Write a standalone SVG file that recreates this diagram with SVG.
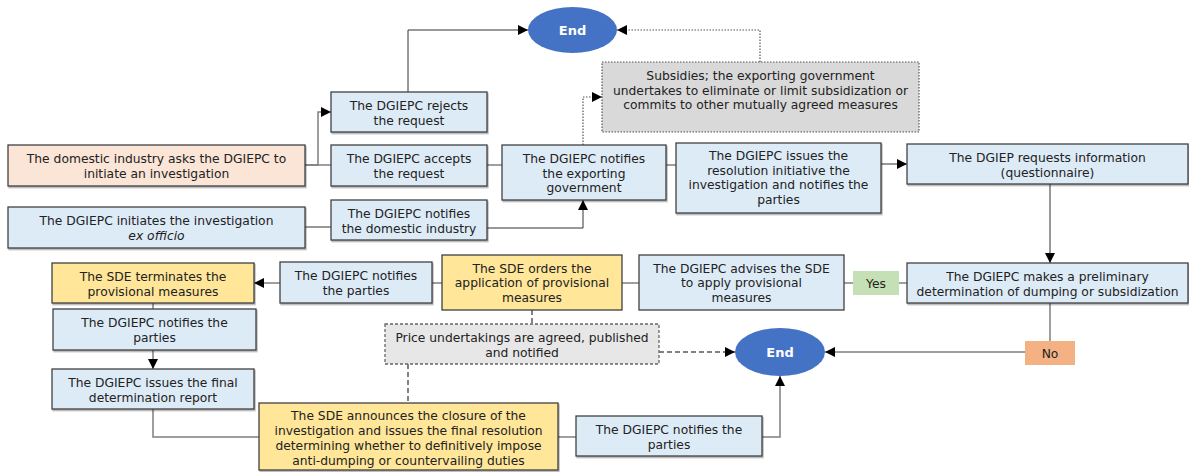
<svg xmlns="http://www.w3.org/2000/svg" width="1189" height="472" viewBox="0 0 1189 472">
<style>
text{font-family:"DejaVu Sans","Liberation Sans",sans-serif;font-size:12.3px;fill:#222;text-anchor:middle}
.box{stroke:#404040;stroke-width:1.3}
.blue{fill:#DDEBF7}
.orange{fill:#FBE5D6}
.yellow{fill:#FFE699}
.gray{fill:#D9D9D9;stroke:#555;stroke-width:1.2;stroke-dasharray:1.5 1.5}
.price{fill:#E7E7E7;stroke:#666;stroke-width:1.3;stroke-dasharray:3 2}
.end{fill:#4472C4}
.endt{fill:#fff;font-weight:bold;font-size:13px}
.c{fill:none;stroke:#7f7f7f;stroke-width:1.5}
.thin{fill:none;stroke:#333;stroke-width:1}
.dot{fill:none;stroke:#555;stroke-width:1.2;stroke-dasharray:1.5 1.5}
.dash{fill:none;stroke:#595959;stroke-width:1.5;stroke-dasharray:5 3}
</style>
<defs>
<marker id="arr" markerUnits="userSpaceOnUse" markerWidth="10" markerHeight="10" refX="10" refY="5" orient="auto" viewBox="0 0 10 10">
<path d="M0,0 L10,5 L0,10 z" fill="#000"/>
</marker>
<filter id="sh" x="-5%" y="-5%" width="110%" height="120%">
<feDropShadow dx="1" dy="1.5" stdDeviation="0.6" flood-color="#000" flood-opacity="0.3"/>
</filter>
</defs>

<g id="connectors">
<path class="c" d="M305,165 H318 V112 H331" marker-end="url(#arr)"/>
<path class="c" d="M305,165 H331"/>
<path class="thin" d="M305,227 H331"/>
<path class="thin" d="M408,92 V30 H528" marker-end="url(#arr)"/>
<path class="c" d="M487,165 H502"/>
<path class="thin" d="M487,228 H583 V200" marker-end="url(#arr)"/>
<path class="dot" d="M583,145 V97 H602" marker-end="url(#arr)"/>
<path class="dot" d="M760,62 V30 H617" marker-end="url(#arr)"/>
<path class="c" d="M666,165 H676"/>
<path class="thin" d="M881,164 H907" marker-end="url(#arr)"/>
<path class="thin" d="M1050,184 V263" marker-end="url(#arr)"/>
<path class="c" d="M907,283 H899"/>
<path class="c" d="M853,283 H844"/>
<path class="c" d="M1050,303 V341"/>
<path class="c" d="M1025,352 H825" marker-end="url(#arr)"/>
<path class="c" d="M639,283 H622"/>
<path class="c" d="M442,283 H432"/>
<path class="c" d="M280,283 H254" marker-end="url(#arr)"/>
<path class="c" d="M153,303 V309"/>
<path class="c" d="M153,350 V369" marker-end="url(#arr)"/>
<path class="c" d="M153,409 V437 H259"/>
<path class="dash" d="M532,310 V324"/>
<path class="dash" d="M659,352 H735" marker-end="url(#arr)"/>
<path class="dash" d="M408,364 V403"/>
<path class="c" d="M558,437 H576"/>
<path class="c" d="M762,437 H780 V376" marker-end="url(#arr)"/>
</g>

<g id="n-request">
<rect class="box orange" x="8" y="145" width="297" height="41" filter="url(#sh)"/>
<text x="156.5" y="163">The domestic industry asks the DGIEPC to</text>
<text x="156.5" y="177.5">initiate an investigation</text>
</g>
<g id="n-exofficio">
<rect class="box blue" x="8" y="207" width="297" height="41" filter="url(#sh)"/>
<text x="156.5" y="225">The DGIEPC initiates the investigation</text>
<text x="156.5" y="239.5" font-style="italic">ex officio</text>
</g>
<g id="n-rejects">
<rect class="box blue" x="331" y="92" width="156" height="40" filter="url(#sh)"/>
<text x="409" y="110">The DGIEPC rejects</text>
<text x="409" y="124.5">the request</text>
</g>
<g id="n-accepts">
<rect class="box blue" x="331" y="145" width="156" height="41" filter="url(#sh)"/>
<text x="409" y="163">The DGIEPC accepts</text>
<text x="409" y="177.5">the request</text>
</g>
<g id="n-notify-domestic">
<rect class="box blue" x="331" y="200" width="156" height="40" filter="url(#sh)"/>
<text x="409" y="218">The DGIEPC notifies</text>
<text x="409" y="232.5">the domestic industry</text>
</g>
<g id="n-notify-gov">
<rect class="box blue" x="502" y="145" width="164" height="55" filter="url(#sh)"/>
<text x="584" y="163">The DGIEPC notifies</text>
<text x="584" y="177.5">the exporting</text>
<text x="584" y="192">government</text>
</g>
<g id="n-subsidies">
<rect class="gray" x="602" y="62" width="317" height="70"/>
<text x="760.5" y="80">Subsidies; the exporting government</text>
<text x="760.5" y="94.5">undertakes to eliminate or limit subsidization or</text>
<text x="760.5" y="109">commits to other mutually agreed measures</text>
</g>
<g id="end-top">
<ellipse class="end" cx="572.5" cy="30" rx="44.5" ry="23"/>
<text class="endt" x="572.5" y="34.5">End</text>
</g>
<g id="n-resolution">
<rect class="box blue" x="676" y="143" width="205" height="70" filter="url(#sh)"/>
<text x="778.5" y="160">The DGIEPC issues the</text>
<text x="778.5" y="174.5">resolution initiative the</text>
<text x="778.5" y="189">investigation and notifies the</text>
<text x="778.5" y="203.5">parties</text>
</g>
<g id="n-questionnaire">
<rect class="box blue" x="907" y="144" width="281" height="40" filter="url(#sh)"/>
<text x="1047.5" y="162">The DGIEP requests information</text>
<text x="1047.5" y="176.5">(questionnaire)</text>
</g>
<g id="n-preliminary">
<rect class="box blue" x="907" y="263" width="281" height="40" filter="url(#sh)"/>
<text x="1047.5" y="281">The DGIEPC makes a preliminary</text>
<text x="1047.5" y="295.5">determination of dumping or subsidization</text>
</g>
<g id="l-yes">
<rect x="853" y="271" width="46" height="24" fill="#C5E0B4"/>
<text x="876" y="287.5">Yes</text>
</g>
<g id="l-no">
<rect x="1025" y="341" width="50" height="24" fill="#F4B183"/>
<text x="1050" y="357.5">No</text>
</g>
<g id="n-advise">
<rect class="box blue" x="639" y="255" width="205" height="55"/>
<text x="741.5" y="272.5">The DGIEPC advises the SDE</text>
<text x="741.5" y="287">to apply provisional</text>
<text x="741.5" y="301.5">measures</text>
</g>
<g id="n-sde-orders">
<rect class="box yellow" x="442" y="255" width="180" height="55"/>
<text x="532" y="272.5">The SDE orders the</text>
<text x="532" y="287">application of provisional</text>
<text x="532" y="301.5">measures</text>
</g>
<g id="n-notify-parties-1">
<rect class="box blue" x="280" y="262" width="152" height="41" filter="url(#sh)"/>
<text x="356" y="280">The DGIEPC notifies</text>
<text x="356" y="294.5">the parties</text>
</g>
<g id="n-terminates">
<rect class="box yellow" x="52" y="263" width="202" height="40" filter="url(#sh)"/>
<text x="153" y="281">The SDE terminates the</text>
<text x="153" y="295.5">provisional measures</text>
</g>
<g id="n-notify-parties-2">
<rect class="box blue" x="53" y="309" width="203" height="41" filter="url(#sh)"/>
<text x="154.5" y="327">The DGIEPC notifies the</text>
<text x="154.5" y="341.5">parties</text>
</g>
<g id="n-final-report">
<rect class="box blue" x="52" y="369" width="202" height="40" filter="url(#sh)"/>
<text x="153" y="387">The DGIEPC issues the final</text>
<text x="153" y="401.5">determination report</text>
</g>
<g id="n-price">
<rect class="price" x="385" y="324" width="274" height="40"/>
<text x="522" y="342">Price undertakings are agreed, published</text>
<text x="522" y="356.5">and notified</text>
</g>
<g id="end-bottom">
<ellipse class="end" cx="780" cy="352" rx="45" ry="24"/>
<text class="endt" x="780" y="356.5">End</text>
</g>
<g id="n-closure">
<rect class="box yellow" x="259" y="403" width="299" height="67" filter="url(#sh)"/>
<text x="408.5" y="419.5">The SDE announces the closure of the</text>
<text x="408.5" y="434.5">investigation and issues the final resolution</text>
<text x="408.5" y="449.5">determining whether to definitively impose</text>
<text x="408.5" y="464.5">anti-dumping or countervailing duties</text>
</g>
<g id="n-notify-parties-3">
<rect class="box blue" x="576" y="416" width="186" height="40" filter="url(#sh)"/>
<text x="669" y="434">The DGIEPC notifies the</text>
<text x="669" y="448.5">parties</text>
</g>
</svg>
